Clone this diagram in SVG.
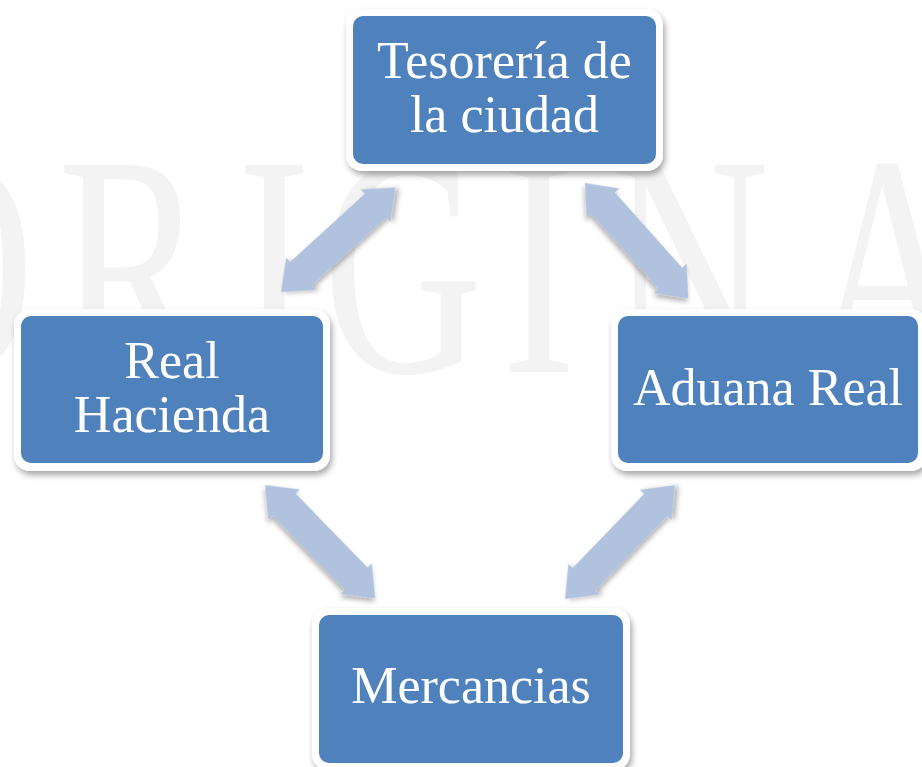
<svg xmlns="http://www.w3.org/2000/svg" width="922" height="767" viewBox="0 0 922 767">
  <style>
    .frame { fill: #ffffff; filter: url(#shadow); }
    .box { fill: #4f81bd; }
    .label { font-family: "Liberation Serif", "Times New Roman", serif; font-size: 52px; fill: #ffffff; text-anchor: middle; }
    .arrow { fill: #b0c2de; filter: url(#ashadow); }
    .wm { font-family: "Liberation Serif", "Times New Roman", serif; font-size: 316px; fill: #f3f3f3; }
  </style>
  <defs>
    <filter id="shadow" x="-10%" y="-10%" width="125%" height="130%">
      <feDropShadow dx="2" dy="4" stdDeviation="3" flood-color="#000000" flood-opacity="0.35"/>
    </filter>
    <filter id="ashadow" x="-20%" y="-30%" width="140%" height="160%">
      <feDropShadow dx="2" dy="3" stdDeviation="2.5" flood-color="#000000" flood-opacity="0.3"/>
    </filter>
    <path id="dblarrow" d="M0,0 L27,-22 L27,-16 L128,-16 L128,-22 L155,0 L128,22 L128,16 L27,16 L27,22 Z"/>
  </defs>
  <rect width="922" height="767" fill="#ffffff"/>
  <g id="watermark" transform="scale(0.7,1)">
    <text class="wm" x="-179 83 339 461 717 871 1156" y="372">ORIGINA</text>
  </g>
  <g id="connectors">
    <use href="#dblarrow" class="arrow" transform="translate(281,292) rotate(-42.4)"/>
    <use href="#dblarrow" class="arrow" transform="translate(585,183) rotate(48.2)"/>
    <use href="#dblarrow" class="arrow" transform="translate(265,485) rotate(45.8) scale(1.02,1)"/>
    <use href="#dblarrow" class="arrow" transform="translate(565,599) rotate(-46) scale(1.02,1)"/>
  </g>
  <g id="node-tesoreria">
    <rect class="frame" x="346" y="9" width="317" height="162" rx="16"/>
    <rect class="box" x="353" y="16" width="303" height="148" rx="10"/>
    <text class="label" x="504.5" y="78">Tesorería de</text>
    <text class="label" x="504.5" y="132">la ciudad</text>
  </g>
  <g id="node-real-hacienda">
    <rect class="frame" x="14" y="309" width="316" height="162" rx="16"/>
    <rect class="box" x="21" y="316" width="302" height="147" rx="10"/>
    <text class="label" x="172" y="378">Real</text>
    <text class="label" x="172" y="432">Hacienda</text>
  </g>
  <g id="node-aduana-real">
    <rect class="frame" x="611" y="309" width="316" height="162" rx="16"/>
    <rect class="box" x="618" y="316" width="300" height="147" rx="10"/>
    <text class="label" x="768" y="405">Aduana Real</text>
  </g>
  <g id="node-mercancias">
    <rect class="frame" x="312" y="608" width="318" height="162" rx="16"/>
    <rect class="box" x="319" y="615" width="304" height="148" rx="10"/>
    <text class="label" x="471" y="703">Mercancias</text>
  </g>
</svg>
